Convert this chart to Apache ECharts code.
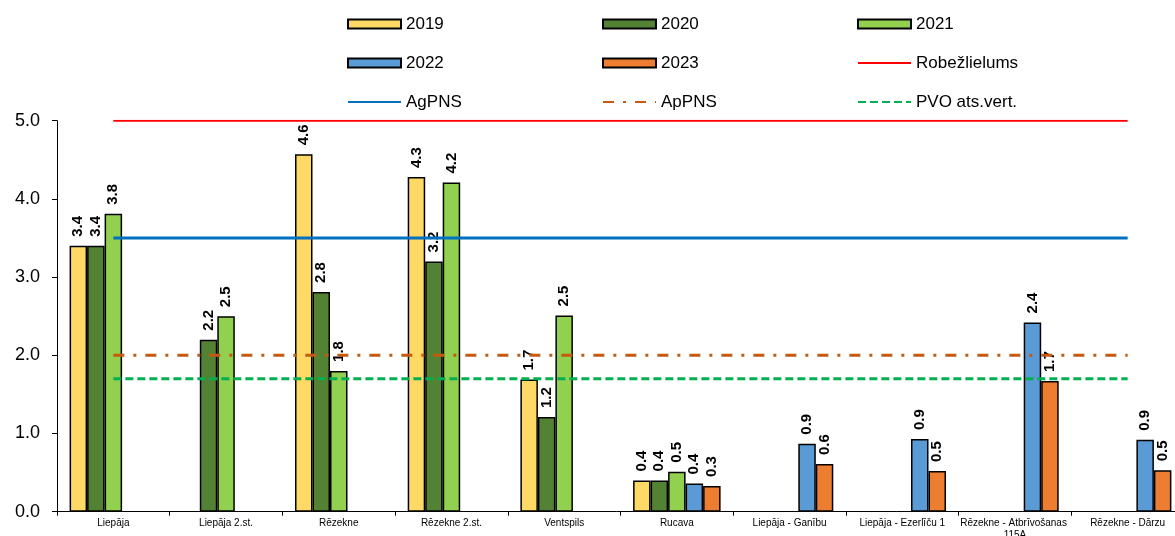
<!DOCTYPE html>
<html>
<head>
<meta charset="utf-8">
<script src="https://cdn.jsdelivr.net/npm/echarts@6/dist/echarts.min.js"></script>
<style>
html,body{margin:0;padding:0;background:#fff;}
#chart{width:1175px;height:536px;}
</style>
</head>
<body>
<div id="chart"></div>
<script>
const categories = ['Liepāja','Liepāja 2.st.','Rēzekne','Rēzekne 2.st.','Ventspils','Rucava','Liepāja - Ganību','Liepāja - Ezerlīču 1','Rēzekne - Atbrīvošanas 115A','Rēzekne - Dārzu'];
const y2019 = [3.4, null, 4.57, 4.28, 1.69, 0.4, null, null, null, null];
const y2020 = [3.4, 2.2, 2.81, 3.2, 1.21, 0.4, null, null, null, null];
const y2021 = [3.81, 2.5, 1.8, 4.21, 2.51, 0.51, null, null, null, null];
const y2022 = [null, null, null, null, null, 0.36, 0.87, 0.93, 2.42, 0.92];
const y2023 = [null, null, null, null, null, 0.33, 0.61, 0.52, 1.67, 0.53];
const robezlielums = [5, 5, 5, 5, 5, 5, 5, 5, 5, 5];
const agPNS = [3.5, 3.5, 3.5, 3.5, 3.5, 3.5, 3.5, 3.5, 3.5, 3.5];
const apPNS = [2, 2, 2, 2, 2, 2, 2, 2, 2, 2];
const pvo = [1.7, 1.7, 1.7, 1.7, 1.7, 1.7, 1.7, 1.7, 1.7, 1.7];
const yTicks = [0, 1, 2, 3, 4, 5];

const FONT = '"Liberation Sans", Arial, sans-serif';
const chart = echarts.init(document.getElementById('chart'));

function barSeries(name, data, color) {
  return {
    name, type: 'bar', data,
    barWidth: 17.5, barGap: '0%',
    itemStyle: { color, borderColor: '#000', borderWidth: 1.5 },
    label: {
      show: true, position: 'top', rotate: 90, align: 'left', verticalAlign: 'middle',
      distance: 9, color: '#000', fontWeight: 'bold', fontSize: 15, fontFamily: FONT,
      formatter: p => p.value == null ? '' : Number(p.value).toFixed(1)
    },
    z: 2
  };
}
function lineSeries(name, data, color, width, dash) {
  return {
    name, type: 'line', data, symbol: 'none', showSymbol: false, silent: true,
    lineStyle: { color, width, type: dash, cap: 'butt' },
    itemStyle: { color },
    z: 3
  };
}

const legendCols = [347, 602, 857];
const legendRows = [14, 53, 92];
const legendNames = [['2019','2020','2021'],['2022','2023','Robežlielums'],['AgPNS','ApPNS','PVO ats.vert.']];
const legends = [];
legendNames.forEach((row, ri) => row.forEach((nm, ci) => {
  const isBar = /^\d{4}$/.test(nm);
  const lg = {
    data: [nm], left: legendCols[ci], top: legendRows[ri], padding: 0,
    itemWidth: 53, itemHeight: isBar ? 9 : 14, itemGap: 0,
    selectedMode: false,
    textStyle: { fontSize: 17, fontFamily: FONT, color: '#000', padding: [0, 0, 0, 0], lineHeight: 20 }
  };
  if (isBar) lg.icon = 'rect';
  else lg.itemStyle = { opacity: 0 };
  legends.push(lg);
}));

chart.setOption({
  animation: false,
  backgroundColor: '#fff',
  legend: legends,
  grid: { left: 57, width: 1127, top: 120.7, bottom: 24.3, outerBoundsMode: 'none', containLabel: false },
  xAxis: {
    type: 'category', data: categories,
    axisLine: { lineStyle: { color: '#000', width: 1 } },
    axisTick: { show: true, length: 4, lineStyle: { color: '#000' } },
    axisLabel: { fontSize: 10, fontFamily: FONT, color: '#000', margin: 6, interval: 0, width: 130, overflow: 'break', lineHeight: 12 }
  },
  yAxis: {
    type: 'value', min: 0, max: 5, interval: 1,
    splitLine: { show: false },
    axisLine: { show: true, lineStyle: { color: '#000', width: 1 } },
    axisTick: { show: true, length: 5, lineStyle: { color: '#000' } },
    axisLabel: { fontSize: 18, fontFamily: FONT, color: '#000', margin: 17, formatter: v => yTicks.includes(v) ? v.toFixed(1) : '' }
  },
  series: [
    barSeries('2019', y2019, '#FFD966'),
    barSeries('2020', y2020, '#548235'),
    barSeries('2021', y2021, '#92D050'),
    barSeries('2022', y2022, '#5B9BD5'),
    barSeries('2023', y2023, '#ED7D31'),
    lineSeries('Robežlielums', robezlielums, '#FF0000', 2, 'solid'),
    lineSeries('AgPNS', agPNS, '#0070C0', 3, 'solid'),
    lineSeries('ApPNS', apPNS, '#C55A11', 3, [11, 9, 3, 9]),
    lineSeries('PVO ats.vert.', pvo, '#00B050', 3, [8, 4])
  ]
});
</script>
</body>
</html>
